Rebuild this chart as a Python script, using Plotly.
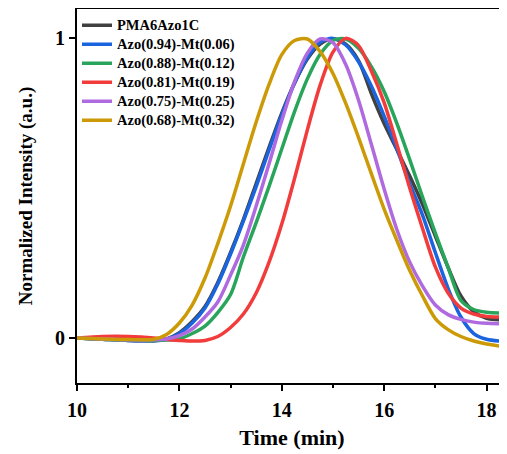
import plotly.graph_objects as go

time_min = [10, 10.5, 11, 11.5, 11.75, 12, 12.25, 12.5, 12.75, 13, 13.25, 13.5, 13.75,
            14, 14.25, 14.5, 14.75, 15, 15.25, 15.5, 15.75, 16, 16.25, 16.5, 16.75,
            17, 17.25, 17.5, 17.75, 18, 18.4]

pma6azo1c = [0, -0.004, -0.008, -0.009, -0.003, 0.018, 0.055, 0.105, 0.185, 0.285, 0.395, 0.515, 0.635,
             0.75, 0.85, 0.93, 0.98, 0.998, 0.98, 0.925, 0.815, 0.715, 0.628, 0.54, 0.445,
             0.34, 0.235, 0.14, 0.088, 0.066, 0.06]
azo094 = [0, -0.004, -0.008, -0.009, -0.004, 0.015, 0.05, 0.10, 0.18, 0.28, 0.39, 0.505, 0.626,
          0.744, 0.85, 0.935, 0.986, 0.999, 0.977, 0.921, 0.84, 0.74, 0.63, 0.515, 0.41,
          0.285, 0.165, 0.07, 0.015, -0.004, -0.012]
azo088 = [0, -0.004, -0.007, -0.008, -0.007, -0.003, 0.015, 0.04, 0.085, 0.145, 0.27, 0.385, 0.505,
          0.63, 0.755, 0.864, 0.946, 0.992, 0.997, 0.966, 0.905, 0.822, 0.715, 0.595, 0.47,
          0.35, 0.235, 0.125, 0.095, 0.086, 0.083]
azo081 = [0, 0.005, 0.005, 0.0, -0.005, -0.008, -0.01, -0.008, 0.005, 0.035, 0.08, 0.15, 0.252,
          0.38, 0.532, 0.694, 0.843, 0.953, 0.999, 0.975, 0.89, 0.785, 0.645, 0.5, 0.365,
          0.237, 0.15, 0.1, 0.08, 0.072, 0.07]
azo075 = [0, -0.003, -0.006, -0.006, -0.003, 0.008, 0.03, 0.07, 0.12, 0.21, 0.31, 0.44, 0.58,
          0.725, 0.855, 0.95, 0.997, 0.985, 0.912, 0.793, 0.646, 0.497, 0.361, 0.253, 0.173,
          0.11, 0.078, 0.062, 0.053, 0.049, 0.047]
azo068 = [0, -0.003, -0.005, -0.004, 0.012, 0.05, 0.11, 0.20, 0.315, 0.44, 0.58, 0.72, 0.845,
          0.945, 0.992, 0.997, 0.955, 0.882, 0.782, 0.668, 0.548, 0.43, 0.325, 0.225, 0.14,
          0.065, 0.028, 0.005, -0.01, -0.02, -0.03]

series_names = ["PMA6Azo1C", "Azo(0.94)-Mt(0.06)", "Azo(0.88)-Mt(0.12)",
                "Azo(0.81)-Mt(0.19)", "Azo(0.75)-Mt(0.25)", "Azo(0.68)-Mt(0.32)"]
series_values = [pma6azo1c, azo094, azo088, azo081, azo075, azo068]
series_colors = ["#404040", "#1a64e0", "#28a55a", "#f23c3c", "#b06ae0", "#cc9a06"]

x_ticks = [10, 12, 14, 16, 18]
y_ticks = [0, 1]
y_tick_labels = ["0", "1"]

font_family = "Liberation Serif, Times New Roman, serif"

fig = go.Figure()
for name, vals, col in zip(series_names, series_values, series_colors):
    fig.add_trace(go.Scatter(
        x=time_min, y=vals, mode="lines",
        name='<span style="font-size:14.5px">' + name + '</span>',
        line=dict(color=col, width=3.5, shape="spline", smoothing=0.8),
    ))

# the page body adds an 8px margin, so the figure is sized to fill the rest
fig.update_layout(
    width=499, height=446,
    margin=dict(l=69, r=0, t=1, b=71, autoexpand=False),
    paper_bgcolor="white", plot_bgcolor="white",
    font=dict(family=font_family, color="black"),
    showlegend=True,
    legend=dict(
        x=0.0, y=0.995, xanchor="left", yanchor="top",
        bgcolor="rgba(0,0,0,0)",
        font=dict(family=font_family, size=11, color="black", weight="bold"),
        tracegroupgap=0, itemwidth=30,
    ),
)

fig.update_xaxes(
    range=[10, 18.4],
    tickvals=x_ticks,
    automargin=False,
    ticks="outside", ticklen=6, tickwidth=2, tickcolor="black",
    minor=dict(dtick=1, tick0=10, ticks="outside", ticklen=3, tickwidth=2, tickcolor="black"),
    showline=True, linewidth=2, linecolor="black", mirror=True,
    showgrid=False, zeroline=False,
    ticklabelstandoff=2,
    tickfont=dict(family=font_family, size=20, color="black", weight="bold"),
    title=dict(text="Time (min)", font=dict(family=font_family, size=22, color="black", weight="bold"), standoff=10),
)
fig.update_yaxes(
    range=[-0.15, 1.097],
    tickvals=y_ticks, ticktext=y_tick_labels,
    automargin=False,
    ticks="outside", ticklen=6, tickwidth=2, tickcolor="black",
    showline=True, linewidth=2, linecolor="black",
    showgrid=False, zeroline=False,
    tickfont=dict(family=font_family, size=20, color="black", weight="bold"),
    title=dict(text="Normalized Intensity (a.u.)", font=dict(family=font_family, size=19, color="black", weight="bold"), standoff=17),
)

fig.write_html("out.html")
